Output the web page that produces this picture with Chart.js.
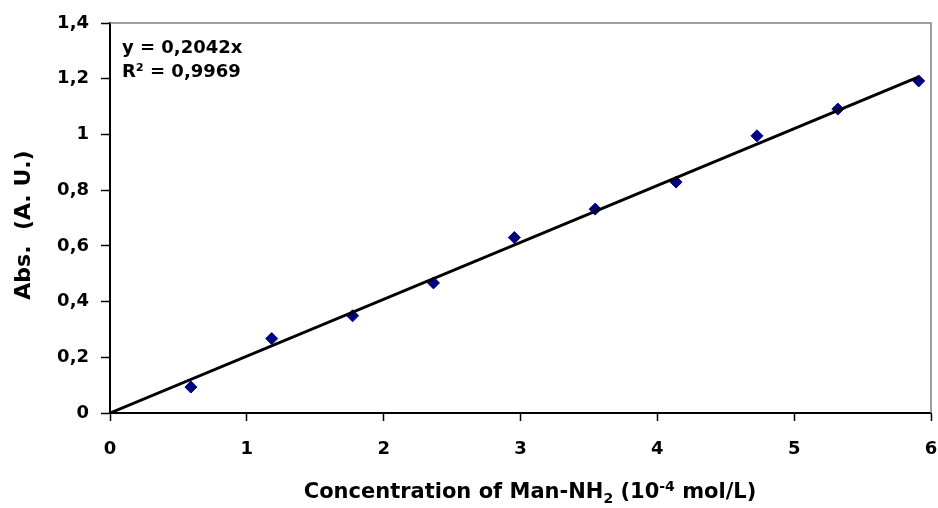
<!DOCTYPE html>
<html>
<head>
<meta charset="utf-8">
<script src="https://cdn.jsdelivr.net/npm/chart.js@4.4.0/dist/chart.umd.min.js"></script>
<style>
  html, body { margin: 0; padding: 0; background: #fff; }
  #wrap { width: 938px; height: 508px; }
</style>
</head>
<body>
<div id="wrap"><canvas id="chart" width="938" height="508"></canvas></div>
<script>
// Concentration (10^-4 mol/L) and absorbance
const concentration = [0.591, 1.182, 1.773, 2.364, 2.955, 3.546, 4.137, 4.728, 5.319, 5.91];
const absorbance = [0.093, 0.267, 0.349, 0.467, 0.630, 0.732, 0.829, 0.995, 1.091, 1.192];

// trendline from the equation shown on the chart
const slope = 0.2042;
const rSquared = '0,9969';
const trendX = [0, 5.91];

const xTicks = [0, 1, 2, 3, 4, 5, 6];
const yTicks = [0, 0.2, 0.4, 0.6, 0.8, 1, 1.2, 1.4];

const FONT = '"DejaVu Sans", sans-serif';

const points = concentration.map((x, i) => ({ x: x, y: absorbance[i] }));
const trend = trendX.map(x => ({ x: x, y: slope * x }));

function commaNum(v) {
    return String(Number(v.toFixed(1))).replace('.', ',');
}

// grey frame on top/right + text drawn with sub/superscripts
const decorPlugin = {
    id: 'decor',
    beforeDatasetsDraw(chart) {
        const { ctx, chartArea: a } = chart;
        ctx.save();
        ctx.strokeStyle = '#808080';
        ctx.lineWidth = 1.5;
        ctx.beginPath();
        ctx.moveTo(a.left, a.top);
        ctx.lineTo(a.right, a.top);
        ctx.lineTo(a.right, a.bottom);
        ctx.stroke();
        ctx.restore();
    },
    afterDraw(chart) {
        const { ctx, chartArea: a } = chart;
        ctx.save();
        ctx.fillStyle = '#000';
        ctx.textBaseline = 'alphabetic';

        // equation box
        ctx.font = 'bold 18px ' + FONT;
        ctx.textAlign = 'left';
        ctx.fillText('y = ' + String(slope).replace('.', ',') + 'x', a.left + 12, 53);
        ctx.fillText('R\u00B2 = ' + rSquared, a.left + 12, 77);

        // y axis title
        ctx.save();
        ctx.translate(24, 225);
        ctx.rotate(-Math.PI / 2);
        ctx.font = 'bold 22px ' + FONT;
        ctx.textAlign = 'center';
        ctx.textBaseline = 'middle';
        ctx.fillText('Abs.  (A. U.)', 0, 0);
        ctx.restore();

        // x axis title with subscript and superscript
        const parts = [
            { t: 'Concentration of Man-NH', size: 21, dy: 0 },
            { t: '2', size: 14, dy: 5 },
            { t: ' (10', size: 21, dy: 0 },
            { t: '-4', size: 14, dy: -7 },
            { t: ' mol/L)', size: 21, dy: 0 }
        ];
        let total = 0;
        parts.forEach(p => {
            ctx.font = 'bold ' + p.size + 'px ' + FONT;
            p.w = ctx.measureText(p.t).width;
            total += p.w;
        });
        let x = 530 - total / 2;
        const base = 498;
        parts.forEach(p => {
            ctx.font = 'bold ' + p.size + 'px ' + FONT;
            ctx.fillText(p.t, x, base + p.dy);
            x += p.w;
        });
        ctx.restore();
    }
};

const ctx = document.getElementById('chart').getContext('2d');
const chart = new Chart(ctx, {
    type: 'scatter',
    data: {
        datasets: [
            {
                label: 'Trend',
                data: trend,
                showLine: true,
                borderColor: '#000',
                borderWidth: 3,
                pointRadius: 0,
                fill: false,
                order: 0
            },
            {
                label: 'Abs',
                data: points,
                pointStyle: 'rectRot',
                pointRadius: 6,
                pointHoverRadius: 6,
                backgroundColor: '#000080',
                borderColor: '#000080',
                borderWidth: 1,
                order: 1
            }
        ]
    },
    options: {
        responsive: false,
        animation: false,
        devicePixelRatio: 1,
        layout: { padding: { top: 23, right: 6, left: 0, bottom: 0 } },
        plugins: {
            legend: { display: false },
            tooltip: { enabled: false }
        },
        scales: {
            x: {
                type: 'linear',
                min: 0,
                max: 6,
                afterBuildTicks: s => { s.ticks = xTicks.map(v => ({ value: v })); },
                afterFit: s => { s.height = 95; s.paddingLeft = 0; s.paddingRight = 0; },
                border: { display: true, color: '#000', width: 2 },
                grid: { drawOnChartArea: false, drawTicks: true, tickLength: 8, color: '#000', tickWidth: 1.5 },
                ticks: {
                    color: '#000',
                    padding: 18,
                    font: { family: FONT, size: 18, weight: 'bold' },
                    callback: v => commaNum(v)
                }
            },
            y: {
                type: 'linear',
                min: 0,
                max: 1.4,
                afterBuildTicks: s => { s.ticks = yTicks.map(v => ({ value: v })); },
                afterFit: s => { s.width = 110; s.paddingTop = 0; s.paddingBottom = 0; },
                border: { display: true, color: '#000', width: 2 },
                grid: { drawOnChartArea: false, drawTicks: true, tickLength: 9, color: '#000', tickWidth: 1.5 },
                ticks: {
                    color: '#000',
                    padding: 12,
                    font: { family: FONT, size: 18, weight: 'bold' },
                    callback: v => commaNum(v)
                }
            }
        }
    },
    plugins: [decorPlugin]
});
</script>
</body>
</html>
